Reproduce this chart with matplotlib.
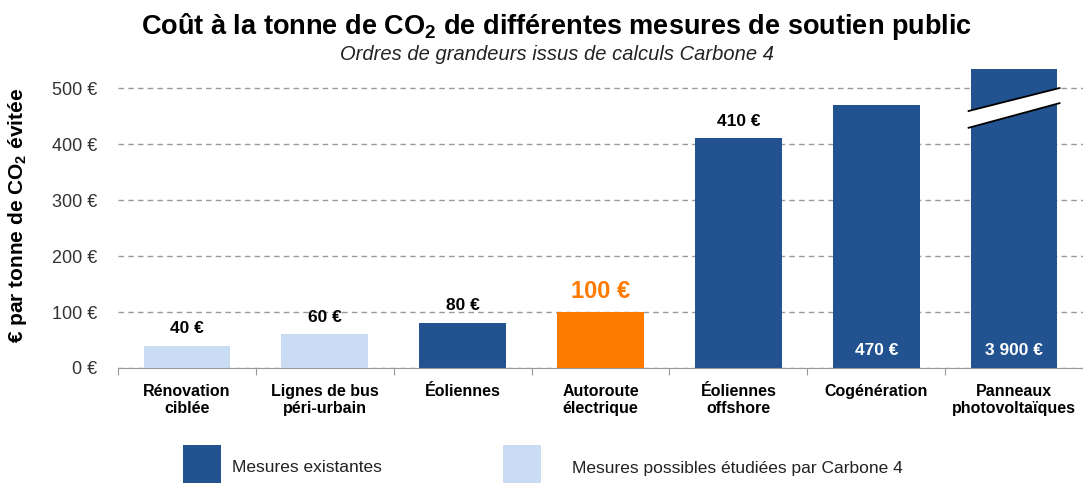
import matplotlib.pyplot as plt
from matplotlib.patches import Polygon, Rectangle

plt.rcParams['font.family'] = ['Liberation Sans', 'DejaVu Sans']
plt.rcParams['mathtext.fontset'] = 'custom'
plt.rcParams['mathtext.rm'] = 'Liberation Sans'
plt.rcParams['mathtext.bf'] = 'Liberation Sans:bold'

### Data
categories = ['Rénovation\nciblée', 'Lignes de bus\npéri-urbain', 'Éoliennes',
              'Autoroute\nélectrique', 'Éoliennes\noffshore', 'Cogénération',
              'Panneaux\nphotovoltaïques']
values = [40, 60, 80, 100, 410, 470, 3900]
labels = ['40 €', '60 €', '80 €', '100 €', '410 €', '470 €', '3 900 €']
kinds = ['possible', 'possible', 'existing', 'focus', 'existing', 'existing', 'existing']
yticks = [0, 100, 200, 300, 400, 500]
ytick_labels = ['0 €', '100 €', '200 €', '300 €', '400 €', '500 €']

dark = '#22528F'
light = '#CADCF4'
orange = '#FF7B00'
colors = {'possible': light, 'existing': dark, 'focus': orange}

ymax = 534

### Figure
fig = plt.figure(figsize=(10.83, 4.83), dpi=100)
ax = fig.add_axes([118 / 1083, 1 - 368 / 483, 1 - 118 / 1083, (368 - 69) / 483])

x = list(range(len(categories)))
ax.bar(x, values, width=0.63, color=[colors[k] for k in kinds], zorder=2)
ax.set_xlim(-0.5, -0.5 + 965 / 139.5)
ax.set_ylim(0, ymax)

ax.set_yticks(yticks)
ax.set_yticklabels(ytick_labels, fontsize=13, color='#333333')
ax.tick_params(axis='y', length=0, pad=15)
ax.yaxis.grid(True, linestyle=(0, (4, 3)), color='#999999', linewidth=1, zorder=0)
ax.set_axisbelow(True)

ax.set_xticks([i + 0.5 for i in range(-1, len(categories))])
ax.set_xticklabels([])
ax.tick_params(axis='x', length=5, color='#999999', direction='out')
for i, c in enumerate(categories):
    ax.text(i, -28, c, ha='center', va='top', fontsize=11.5, fontweight='bold',
            linespacing=1.2)

for s in ['top', 'right', 'left']:
    ax.spines[s].set_visible(False)
ax.spines['bottom'].set_color('#999999')

### Value labels
for i, (v, lab, k) in enumerate(zip(values, labels, kinds)):
    if v > ymax or i == 5:
        ax.text(i, 32, lab, ha='center', va='center', fontsize=12.5, fontweight='bold',
                color='white', zorder=3)
    elif k == 'focus':
        ax.text(i, v + 36, lab, ha='center', va='center', fontsize=17, fontweight='bold',
                color=orange, zorder=3)
    else:
        ax.text(i, v + 31, lab, ha='center', va='center', fontsize=12.5, fontweight='bold',
                zorder=3)

### Axis break on the clipped bar
i = 6
w = 0.33
brk = Polygon([(i - w, 459), (i + w, 500), (i + w, 473), (i - w, 429)],
              closed=True, facecolor='white', edgecolor='none', zorder=4)
ax.add_patch(brk)
ax.plot([i - w, i + w], [459, 500], color='black', lw=1.3, zorder=5)
ax.plot([i - w, i + w], [429, 473], color='black', lw=1.3, zorder=5)

### Titles
fig.text(557 / 1083, 1 - 27 / 483, 'Coût à la tonne de CO$_\\mathbf{2}$ de différentes mesures de soutien public',
         ha='center', va='center', fontsize=19.5, fontweight='bold')
fig.text(557 / 1083, 1 - 55 / 483, 'Ordres de grandeurs issus de calculs Carbone 4',
         ha='center', va='center', fontsize=14.5, style='italic', color='#222222')
fig.text(18 / 1083, 1 - 215 / 483, '€ par tonne de CO$_\\mathbf{2}$ évitée', rotation=90,
         ha='center', va='center', fontsize=15, fontweight='bold')

### Legend
fig.patches.append(Rectangle((183 / 1083, 0), 38 / 1083, 38 / 483, transform=fig.transFigure,
                             facecolor=dark, edgecolor='none'))
fig.text(232 / 1083, 1 - 468 / 483, 'Mesures existantes', ha='left', va='center', fontsize=12.5,
         color='#222222')
fig.patches.append(Rectangle((503 / 1083, 0), 38 / 1083, 38 / 483, transform=fig.transFigure,
                             facecolor=light, edgecolor='none'))
fig.text(572 / 1083, 1 - 468 / 483, 'Mesures possibles étudiées par Carbone 4', ha='left',
         va='center', fontsize=12.5, color='#222222')

fig.savefig('out.png', dpi=100)
